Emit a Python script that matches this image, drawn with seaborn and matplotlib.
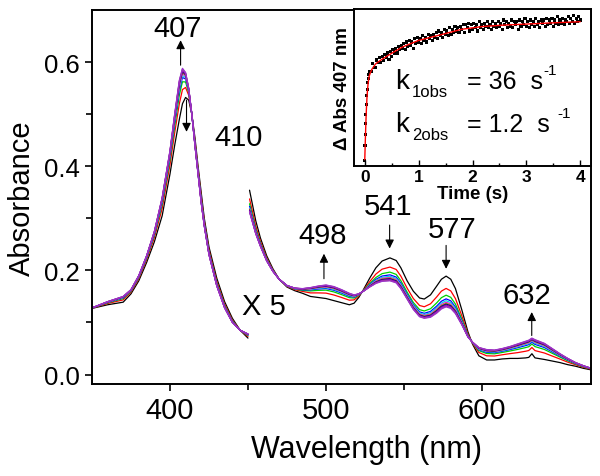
import numpy as np
import pandas as pd
import seaborn as sns
import matplotlib.pyplot as plt
import matplotlib.ticker as mticker

# Soret band: first (black) and last spectrum ---------------------------
soret_nm = [350, 360, 370, 375, 380, 385, 390, 395, 400, 403, 406, 408, 410,
            412, 414, 416, 418, 420, 422, 425, 430, 435, 440, 445, 450]
soret_first = [.127, .134, .139, .155, .180, .215, .255, .305, .385, .44, .49, .52, .532,
               .527, .50, .455, .40, .35, .30, .245, .185, .14, .108, .085, .070]
soret_last = [.128, .140, .150, .163, .190, .228, .275, .34, .43, .50, .565, .588, .58,
              .55, .50, .44, .385, .33, .285, .23, .17, .128, .10, .085, .078]

# visible region (x 5) ----------------------------------------------------
vis_nm = [451, 455, 458, 462, 466, 470, 475, 480, 485, 490, 495, 500, 505, 510, 515,
          518, 521, 524, 528, 532, 536, 541, 545, 548, 552, 556, 560, 563, 567, 571,
          574, 577, 580, 583, 587, 591, 594, 598, 603, 608, 613, 618, 623, 628, 630,
          632, 634, 640, 645, 650, 655, 660, 665, 670]
vis_first = [.354, .295, .262, .228, .203, .183, .168, .161, .156, .150, .148, .146, .142,
             .138, .134, .137, .148, .163, .185, .205, .218, .224, .219, .205, .180, .160,
             .147, .145, .153, .170, .183, .189, .183, .165, .125, .082, .058, .036, .028,
             .028, .030, .031, .031, .032, .033, .040, .032, .029, .026, .023, .019, .016,
             .012, .009]
vis_last = [.312, .270, .246, .218, .198, .183, .171, .166, .165, .167, .170, .172, .169,
            .163, .156, .153, .155, .160, .168, .175, .179, .180, .176, .165, .145, .125,
            .111, .108, .110, .118, .126, .130, .127, .117, .096, .072, .062, .052, .048,
            .047, .050, .054, .059, .064, .066, .070, .067, .060, .050, .040, .031, .023,
            .017, .012]

progress = [0, 0.4, 0.62, 0.74, 0.8, 0.85, 0.88, 0.91, 0.94, 0.96, 0.98, 1.0]
scan_colors = ['#000000', '#ff0000', '#00d000', '#0000ff', '#00e0e0', '#ff00ff',
               '#b0b000', '#000080', '#800080', '#7f00ff', '#b04080', '#9933cc']

# inset: kinetic trace at 407 nm (normalised)
t_fast = [0.000, 0.005, 0.010, 0.015, 0.020, 0.030, 0.035, 0.045, 0.055, 0.065, 0.075, 0.085]
y_fast = [0.034, 0.13, 0.20, 0.27, 0.33, 0.39, 0.45, 0.49, 0.53, 0.56, 0.58, 0.60]
t_slow = [0.100, 0.125, 0.150, 0.175, 0.200, 0.225, 0.250, 0.275, 0.300, 0.325, 0.350, 0.375,
          0.400, 0.425, 0.450, 0.475, 0.500, 0.525, 0.550, 0.575, 0.600, 0.625, 0.650, 0.675,
          0.700, 0.725, 0.750, 0.775, 0.800, 0.825, 0.850, 0.875, 0.900, 0.925, 0.950, 0.975,
          1.000, 1.025, 1.050, 1.075, 1.100, 1.125, 1.150, 1.175, 1.200, 1.225, 1.250, 1.275,
          1.300, 1.325, 1.350, 1.375, 1.400, 1.425, 1.450, 1.475, 1.500, 1.525, 1.550, 1.575,
          1.600, 1.625, 1.650, 1.675, 1.700, 1.725, 1.750, 1.775, 1.800, 1.825, 1.850, 1.875,
          1.900, 1.925, 1.950, 1.975, 2.000, 2.025, 2.050, 2.075, 2.100, 2.125, 2.150, 2.175,
          2.200, 2.225, 2.250, 2.275, 2.300, 2.325, 2.350, 2.375, 2.400, 2.425, 2.450, 2.475,
          2.500, 2.525, 2.550, 2.575, 2.600, 2.625, 2.650, 2.675, 2.700, 2.725, 2.750, 2.775,
          2.800, 2.825, 2.850, 2.875, 2.900, 2.925, 2.950, 2.975, 3.000, 3.025, 3.050, 3.075,
          3.100, 3.125, 3.150, 3.175, 3.200, 3.225, 3.250, 3.275, 3.300, 3.325, 3.350, 3.375,
          3.400, 3.425, 3.450, 3.475, 3.500, 3.525, 3.550, 3.575, 3.600, 3.625, 3.650, 3.675,
          3.700, 3.725, 3.750, 3.775, 3.800, 3.825, 3.850, 3.875, 3.900, 3.925, 3.950, 3.975,
          4.000]
y_slow = [.60, .60, .655, .63, .63, .675, .66, .69, .66, .70, .67, .71,
          .69, .72, .68, .73, .70, .74, .72, .75, .72, .76, .74, .77,
          .75, .78, .74, .79, .76, .80, .77, .79, .75, .81, .78, .82,
          .79, .81, .78, .83, .80, .82, .79, .84, .81, .83, .80, .84,
          .82, .85, .81, .86, .83, .85, .82, .87, .84, .86, .83, .88,
          .84, .87, .85, .89, .86, .88, .85, .89, .87, .90, .85, .90,
          .88, .91, .86, .90, .87, .91, .88, .90, .86, .92, .88, .90,
          .87, .91, .89, .92, .88, .90, .87, .92, .89, .91, .88, .92,
          .89, .91, .87, .93, .90, .92, .88, .91, .89, .93, .88, .92,
          .90, .92, .87, .93, .89, .92, .90, .94, .89, .92, .88, .93,
          .90, .92, .89, .94, .90, .92, .88, .93, .91, .93, .89, .94,
          .90, .93, .91, .94, .89, .93, .91, .95, .90, .93, .91, .94,
          .90, .93, .92, .95, .91, .94, .92, .96, .91, .94, .92, .95,
          .93]
t_fit = [0, 0.01, 0.02, 0.03, 0.04, 0.05, 0.06, 0.08, 0.10, 0.13, 0.2, 0.3, 0.4, 0.5,
         0.7, 1.0, 1.4, 1.8, 2.2, 2.6, 3.0, 3.5, 4.0]
y_fit = [.04, .16, .27, .36, .43, .48, .52, .57, .59, .615, .65, .675, .697, .718,
         .758, .80, .835, .871, .889, .898, .904, .912, .919]

# long tables for seaborn
def scans(nm, first, last):
    first, last = np.array(first), np.array(last)
    rows = []
    for i, p in enumerate(progress):
        rows.append(pd.DataFrame({'nm': nm, 'A': first + p * (last - first), 'scan': i}))
    return pd.concat(rows, ignore_index=True)

soret = scans(soret_nm, soret_first, soret_last)
vis = scans(vis_nm, vis_first, vis_last)
pts = pd.DataFrame({'t': t_fast + t_slow, 'dA': y_fast + y_slow})
fit = pd.DataFrame({'t': t_fit, 'dA': y_fit})

sns.set_style('ticks')
plt.rcParams['font.family'] = ['Liberation Sans', 'DejaVu Sans']
plt.rcParams['text.color'] = 'k'
plt.rcParams['axes.labelcolor'] = 'k'
plt.rcParams['xtick.color'] = 'k'
plt.rcParams['ytick.color'] = 'k'

fig = plt.figure(figsize=(6, 4.77), dpi=100)
ax = fig.add_axes([0.1533, 0.193, 0.832, 0.784])

sns.lineplot(data=soret, x='nm', y='A', hue='scan', palette=scan_colors,
             estimator=None, lw=0.9, legend=False, ax=ax)
sns.lineplot(data=vis, x='nm', y='A', hue='scan', palette=scan_colors,
             estimator=None, lw=0.9, legend=False, ax=ax)

ax.set_xlim(350, 670)
ax.set_ylim(-0.018, 0.70)
ax.xaxis.set_major_locator(mticker.FixedLocator([400, 500, 600]))
ax.xaxis.set_minor_locator(mticker.FixedLocator([450, 550, 650]))
ax.yaxis.set_major_locator(mticker.FixedLocator([0.0, 0.2, 0.4, 0.6]))
ax.yaxis.set_minor_locator(mticker.FixedLocator([0.1, 0.3, 0.5]))
ax.yaxis.set_major_formatter(mticker.FormatStrFormatter('%.1f'))
ax.tick_params(which='major', direction='out', length=5, width=1.2)
ax.tick_params(which='minor', direction='out', length=4, width=1.2)
ax.tick_params(axis='x', labelsize=21, pad=4)
ax.tick_params(axis='y', labelsize=18.5)
for s in ax.spines.values():
    s.set_visible(True)
    s.set_linewidth(1.4)
    s.set_color('k')
ax.set_xlabel('Wavelength (nm)', fontsize=22, labelpad=6)
ax.xaxis.set_label_coords(0.549, -0.135)
ax.set_ylabel('Absorbance', fontsize=21, labelpad=6)

arrow = dict(arrowstyle='-|>', color='k', lw=0.8, mutation_scale=13, shrinkA=0, shrinkB=0)
marks = [('407', 405, 0.665, 406.8, 0.594, 0.642),
         ('410', 444, 0.457, 410.6, 0.527, 0.466),
         ('498', 498, 0.267, 498.7, 0.184, 0.232),
         ('541', 540, 0.324, 540.8, 0.287, 0.242),
         ('577', 580.7, 0.280, 577, 0.248, 0.203),
         ('632', 628.6, 0.153, 631.9, 0.075, 0.120)]
for lab, tx, ty, ax_x, y0, y1 in marks:
    ax.text(tx, ty, lab, fontsize=21, ha='center', va='center')
    ax.annotate('', xy=(ax_x, y1), xytext=(ax_x, y0), arrowprops=arrow)
ax.text(460, 0.131, 'X 5', fontsize=21, ha='center', va='center')

# inset ------------------------------------------------------------------
ins = fig.add_axes([0.59, 0.65, 0.395, 0.329])
sns.scatterplot(data=pts, x='t', y='dA', marker='s', s=5, color='k',
                edgecolor='none', ax=ins)
sns.lineplot(data=fit, x='t', y='dA', color='red', lw=1.0, estimator=None, ax=ins)
ins.set_xlim(-0.2, 4.2)
ins.set_ylim(0, 1.0)
ins.set_yticks([])
ins.xaxis.set_major_locator(mticker.MultipleLocator(1))
ins.xaxis.set_minor_locator(mticker.MultipleLocator(0.5))
ins.tick_params(axis='x', which='major', direction='in', length=4, width=1.0,
                labelsize=12.5, pad=2)
ins.tick_params(axis='x', which='minor', direction='in', length=2.5, width=1.0)
for lbl in ins.get_xticklabels():
    lbl.set_fontweight('bold')
for s in ins.spines.values():
    s.set_visible(True)
    s.set_linewidth(1.4)
    s.set_color('k')
ins.set_xlabel('Time (s)', fontsize=13.5, fontweight='bold', labelpad=1)
ins.set_ylabel('\u0394 Abs 407 nm', fontsize=13.5, fontweight='bold', labelpad=2)

tr = ins.transAxes
ins.text(0.173, 0.497, 'k', fontsize=20, transform=tr)
ins.text(0.245, 0.446, '1obs', fontsize=12, transform=tr)
ins.text(0.475, 0.497, '= 36  s', fontsize=18, transform=tr)
ins.text(0.797, 0.585, '-1', fontsize=11, transform=tr)
ins.text(0.173, 0.223, 'k', fontsize=20, transform=tr)
ins.text(0.245, 0.172, '2obs', fontsize=12, transform=tr)
ins.text(0.475, 0.223, '= 1.2  s', fontsize=18, transform=tr)
ins.text(0.858, 0.311, '-1', fontsize=11, transform=tr)

plt.savefig('out.png', dpi=100)
